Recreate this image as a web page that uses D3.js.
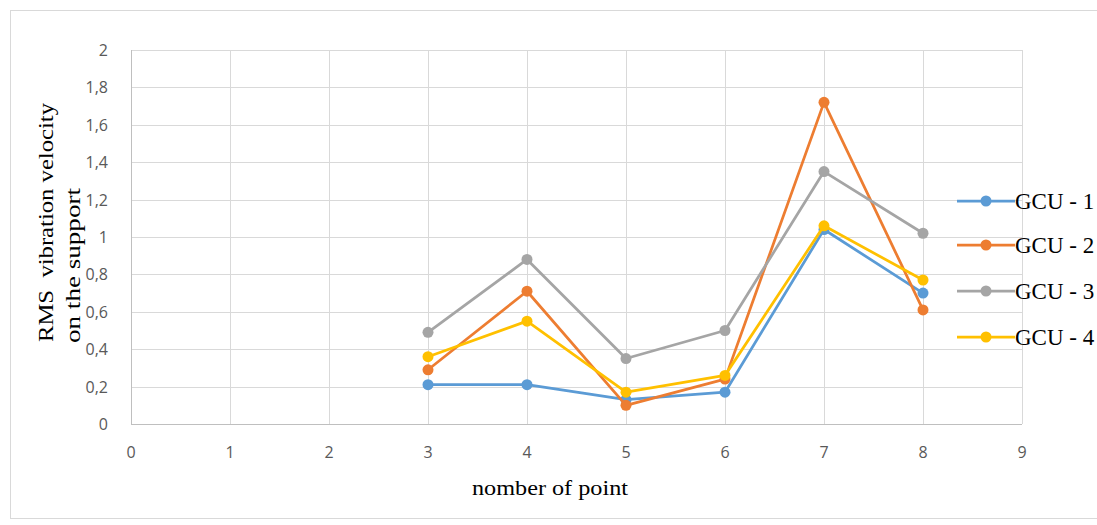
<!DOCTYPE html>
<html><head><meta charset="utf-8">
<script src="https://cdn.jsdelivr.net/npm/d3@7"></script>
<style>body{margin:0;background:#fff}svg{display:block}</style>
</head><body>
<svg id="c" width="1097" height="525"></svg>
<script>
const xPoints = [3, 4, 5, 6, 7, 8];
const seriesNames = ["GCU - 1", "GCU - 2", "GCU - 3", "GCU - 4"];
const gcu1 = [0.21, 0.21, 0.13, 0.17, 1.04, 0.70];
const gcu2 = [0.29, 0.71, 0.10, 0.24, 1.72, 0.61];
const gcu3 = [0.49, 0.88, 0.35, 0.50, 1.35, 1.02];
const gcu4 = [0.36, 0.55, 0.17, 0.26, 1.06, 0.77];
const xTicks = [0, 1, 2, 3, 4, 5, 6, 7, 8, 9];
const yTicks = [0, 0.2, 0.4, 0.6, 0.8, 1, 1.2, 1.4, 1.6, 1.8, 2];
const colors = ["#5B9BD5", "#ED7D31", "#A5A5A5", "#FFC000"];
const allSeries = [gcu1, gcu2, gcu3, gcu4];

const svg = d3.select("#c");
// outer chart border
svg.append("rect").attr("x", 10.5).attr("y", 10.5).attr("width", 1100).attr("height", 508)
  .attr("fill", "none").attr("stroke", "#d9d9d9").attr("stroke-width", 1);

const x = d3.scaleLinear().domain([0, 9]).range([131, 1022]);
const y = d3.scaleLinear().domain([0, 2]).range([424, 50]);

const fmt = d => String(d).replace(".", ",");

// grid
svg.append("g").selectAll("line.h").data(yTicks).join("line")
  .attr("x1", x(0)).attr("x2", x(9)).attr("y1", d => Math.round(y(d)) + 0.5).attr("y2", d => Math.round(y(d)) + 0.5)
  .attr("stroke", "#d9d9d9").attr("stroke-width", 1);
svg.append("g").selectAll("line.v").data(xTicks).join("line")
  .attr("y1", y(0)).attr("y2", y(2)).attr("x1", d => Math.round(x(d)) + 0.5).attr("x2", d => Math.round(x(d)) + 0.5)
  .attr("stroke", "#d9d9d9").attr("stroke-width", 1);
// axes lines
svg.append("line").attr("x1", x(0)).attr("x2", x(9)).attr("y1", Math.round(y(0)) + 0.5).attr("y2", Math.round(y(0)) + 0.5)
  .attr("stroke", "#bfbfbf");
svg.append("line").attr("x1", Math.round(x(0)) + 0.5).attr("x2", Math.round(x(0)) + 0.5).attr("y1", y(0)).attr("y2", y(2))
  .attr("stroke", "#bfbfbf");

// tick labels
const tickFont = "'Open Sans', Lato, sans-serif";
svg.append("g").selectAll("text").data(yTicks).join("text")
  .attr("x", 108).attr("y", d => y(d) + 6).attr("text-anchor", "end")
  .attr("font-family", tickFont).attr("font-size", 16).attr("fill", "#595959").text(fmt);
svg.append("g").selectAll("text").data(xTicks).join("text")
  .attr("x", d => x(d)).attr("y", 458).attr("text-anchor", "middle")
  .attr("font-family", tickFont).attr("font-size", 16).attr("fill", "#595959").text(fmt);

// axis titles
const serif = "'Liberation Serif', 'Times New Roman', serif";
svg.append("text").attr("x", 472).attr("y", 495)
  .attr("font-family", serif).attr("font-size", 22).attr("fill", "#000")
  .attr("textLength", 156).attr("lengthAdjust", "spacingAndGlyphs").text("nomber of point");
svg.append("text").attr("transform", "translate(53,342) rotate(-90)")
  .attr("font-family", serif).attr("font-size", 22).attr("fill", "#000").attr("xml:space", "preserve")
  .attr("textLength", 239).attr("lengthAdjust", "spacingAndGlyphs").text("RMS  vibration velocity");
svg.append("text").attr("transform", "translate(80,343) rotate(-90)")
  .attr("font-family", serif).attr("font-size", 22).attr("fill", "#000")
  .attr("textLength", 155).attr("lengthAdjust", "spacingAndGlyphs").text("on the support");

// series
const line = d3.line().x((d, i) => x(xPoints[i])).y(d => y(d));
allSeries.forEach((s, k) => {
  const g = svg.append("g");
  g.append("path").datum(s).attr("d", line).attr("fill", "none")
    .attr("stroke", colors[k]).attr("stroke-width", 2.75).attr("stroke-linejoin", "round");
  g.selectAll("circle").data(s).join("circle")
    .attr("cx", (d, i) => x(xPoints[i])).attr("cy", d => y(d)).attr("r", 5.5).attr("fill", colors[k]);
});

// legend
const legY = [201, 245, 291, 337];
seriesNames.forEach((n, k) => {
  const g = svg.append("g");
  g.append("line").attr("x1", 957).attr("x2", 1015).attr("y1", legY[k]).attr("y2", legY[k])
    .attr("stroke", colors[k]).attr("stroke-width", 2.75);
  g.append("circle").attr("cx", 986).attr("cy", legY[k]).attr("r", 5.5).attr("fill", colors[k]);
  g.append("text").attr("x", 1015).attr("y", legY[k] + 8).attr("font-family", serif).attr("font-size", 23)
    .attr("fill", "#000").text(n);
});
</script>
</body></html>
